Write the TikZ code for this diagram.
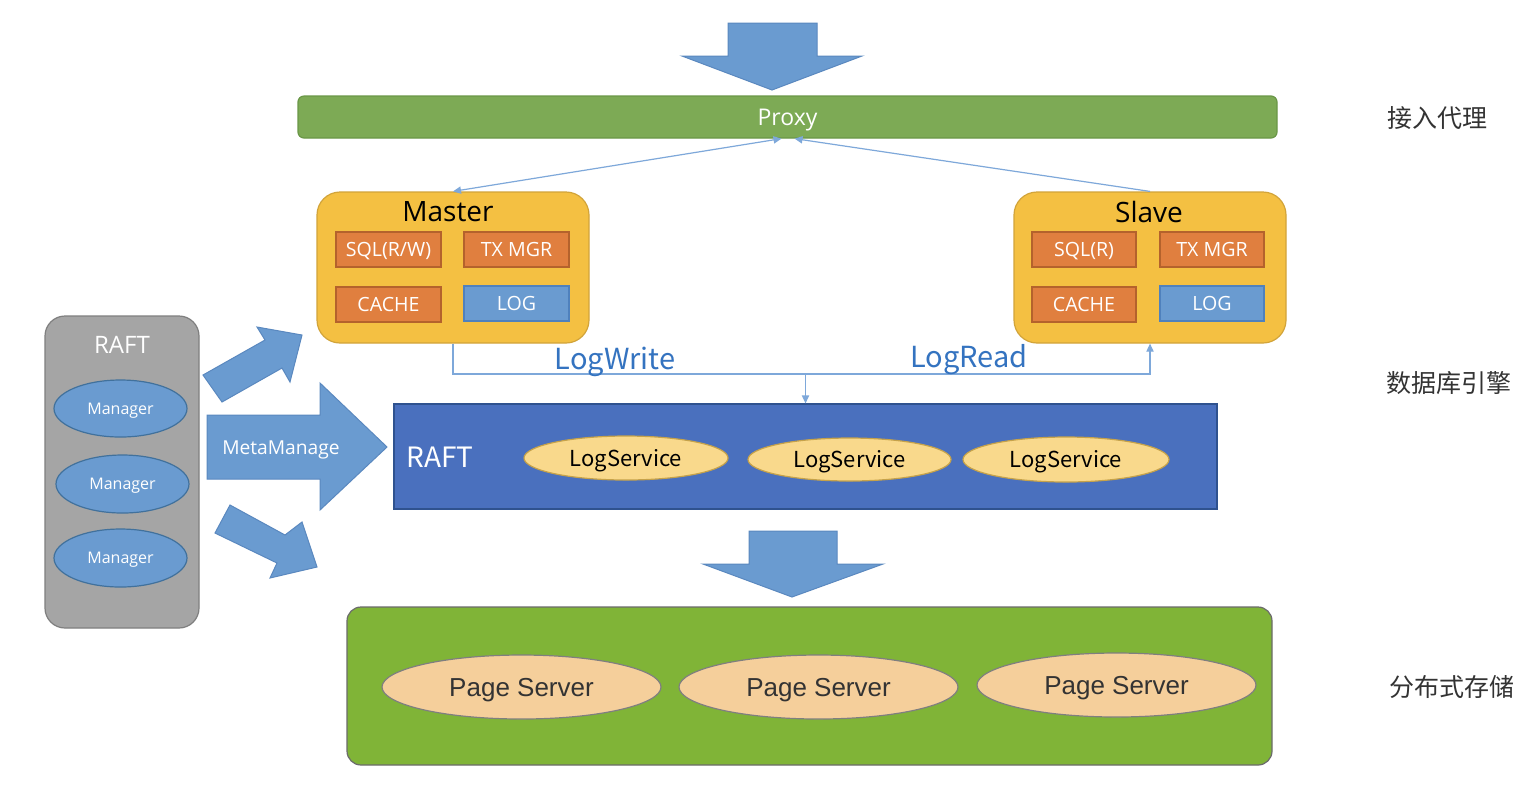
\documentclass[tikz,border=0pt]{standalone}
\usepackage{fontspec}
\setmainfont{Open Sans}
\newfontfamily\cjk{Noto Sans CJK SC}
\newfontfamily\arialf{Liberation Sans}
\usetikzlibrary{shapes.geometric,arrows.meta}
\definecolor{arrowblue}{HTML}{6A9BD0}
\definecolor{arrowedge}{HTML}{5A88BF}
\definecolor{proxygreen}{HTML}{7DAA55}
\definecolor{proxyedge}{HTML}{6A9747}
\definecolor{gold}{HTML}{F4C042}
\definecolor{goldedge}{HTML}{D2A43A}
\definecolor{orangefill}{HTML}{E07F3F}
\definecolor{orangeedge}{HTML}{B4622C}
\definecolor{logedge}{HTML}{4F81BD}
\definecolor{linkblue}{HTML}{7EA8DA}
\definecolor{labelblue}{HTML}{3473C0}
\definecolor{raftblue}{HTML}{4A70BE}
\definecolor{raftedge}{HTML}{2F528F}
\definecolor{lsfill}{HTML}{F9D98C}
\definecolor{lsedge}{HTML}{C6A24A}
\definecolor{grayfill}{HTML}{A5A5A5}
\definecolor{grayedge}{HTML}{7F7F7F}
\definecolor{mgredge}{HTML}{41719C}
\definecolor{storegreen}{HTML}{80B437}
\definecolor{storeedge}{HTML}{6B6B6B}
\definecolor{psfill}{HTML}{F5CF9B}
\definecolor{psedge}{HTML}{7F7F7F}
\definecolor{darktext}{HTML}{333333}
\begin{document}
\begin{tikzpicture}[x=0.5pt,y=-0.5pt,
  bigarrow/.style={fill=arrowblue, draw=arrowedge, line width=0.5pt, line join=miter},
  proxybar/.style={rectangle, rounded corners=3pt, fill=proxygreen, draw=proxyedge, line width=0.6pt, inner sep=0pt, minimum width=489.5pt, minimum height=21pt},
  enginebox/.style={rectangle, rounded corners=11.5pt, fill=gold, draw=goldedge, line width=0.6pt, inner sep=0pt, minimum width=136pt, minimum height=75.5pt},
  enginetitle/.style={font=\fontsize{14pt}{16pt}\selectfont, text=black, inner sep=0pt},
  innerbox/.style={rectangle, line width=0.6pt, inner sep=0pt, text=white, font=\fontsize{9.8pt}{11pt}\selectfont, minimum width=52.5pt, minimum height=17.5pt, text height=7pt, text depth=0pt},
  orangebox/.style={innerbox, fill=orangefill, draw=orangeedge},
  logbox/.style={innerbox, fill=arrowblue, draw=logedge},
  link/.style={draw=linkblue, line width=0.6pt},
  tip/.style={-{Triangle[length=4pt,width=3.6pt]}},
  flowlabel/.style={text=labelblue, font=\cjk\fontsize{14.5pt}{16pt}\selectfont, inner sep=0pt},
  raftband/.style={rectangle, fill=raftblue, draw=raftedge, line width=0.6pt, inner sep=0pt, minimum width=411.5pt, minimum height=52.5pt},
  lsnode/.style={ellipse, fill=lsfill, draw=lsedge, line width=0.6pt, inner sep=0pt, text=black, font=\cjk\fontsize{11pt}{13pt}\selectfont, minimum width=102pt, minimum height=22pt, text height=8pt, text depth=0pt},
  graybox/.style={rectangle, rounded corners=10pt, fill=grayfill, draw=grayedge, line width=0.6pt, inner sep=0pt, minimum width=77pt, minimum height=156pt},
  mgr/.style={ellipse, fill=arrowblue, draw=mgredge, line width=0.6pt, inner sep=0pt, text=white, font=\fontsize{8pt}{10pt}\selectfont, minimum width=66.5pt, minimum height=29pt, text height=5.7pt, text depth=0pt},
  storebox/.style={rectangle, rounded corners=7pt, fill=storegreen, draw=storeedge, line width=0.6pt, inner sep=0pt, minimum width=462.5pt, minimum height=79pt},
  psnode/.style={ellipse, fill=psfill, draw=psedge, line width=0.6pt, inner sep=0pt, text=darktext, font=\arialf\fontsize{13pt}{15pt}\selectfont, minimum width=139.5pt, minimum height=32pt, text height=9.3pt, text depth=0pt},
  layer/.style={text=darktext, font=\cjk\fontsize{12.5pt}{14pt}\selectfont, inner sep=0pt}
]
\useasboundingbox[fill=white] (0,0) rectangle (1540,784);

% big block arrows
\draw[bigarrow] (728,23) -- (817,23) -- (817,56) -- (862,56) -- (772,90) -- (682,56) -- (728,56) -- cycle;
\draw[bigarrow] (749,531) -- (837,531) -- (837,564) -- (883,564) -- (792,597) -- (703,564) -- (749,564) -- cycle;
\draw[bigarrow] (207,415) -- (320,415) -- (320,383) -- (387,447) -- (320,510) -- (320,479) -- (207,479) -- cycle;
\draw[bigarrow] (203,375) -- (265,340) -- (257,327) -- (302,335) -- (290,382) -- (282,368) -- (222,402) -- cycle;
\draw[bigarrow] (230,505) -- (285,535) -- (302,522) -- (317,567) -- (270,578) -- (277,563) -- (215,533) -- cycle;
\node[text=white, font=\fontsize{9.6pt}{11pt}\selectfont, inner sep=0pt, text height=6.9pt, text depth=0pt] (meta) at (281,448) {MetaManage};

% proxy
\node[proxybar, text=white, font=\fontsize{11.5pt}{13pt}\selectfont, text height=8.2pt, text depth=0pt] (proxy) at (787.5,117) {Proxy};

% master
\node[enginebox] (master) at (453,267.5) {};
\node[enginetitle] (mastertitle) at (448,212) {Master};
\node[orangebox] (msql) at (388.5,249.5) {SQL(R/W)};
\node[orangebox] (mtx) at (516.5,249.5) {TX MGR};
\node[orangebox] (mcache) at (388.5,304.5) {CACHE};
\node[logbox] (mlog) at (516.5,303.5) {LOG};

% slave
\node[enginebox] (slave) at (1150,267.5) {};
\node[enginetitle] (slavetitle) at (1149,212) {Slave};
\node[orangebox, minimum width=52pt] (ssql) at (1084,249.5) {SQL(R)};
\node[orangebox, minimum width=52pt] (stx) at (1212,249.5) {TX MGR};
\node[orangebox, minimum width=52pt] (scache) at (1084,304.5) {CACHE};
\node[logbox, minimum width=52pt] (slog) at (1212,303.5) {LOG};

% raft band
\node[raftband] (raft) at (805.5,456.5) {};
\node[text=white, font=\cjk\fontsize{14pt}{16pt}\selectfont, inner sep=0pt, anchor=west] (rafttxt) at (406,457) {RAFT};
\node[lsnode] (ls1) at (626,458) {LogService};
\node[lsnode, minimum width=101.5pt, minimum height=21.5pt] (ls2) at (849.5,459.5) {LogService};
\node[lsnode, minimum width=103pt, minimum height=22.5pt] (ls3) at (1066,459.5) {LogService};

% left raft managers
\node[graybox] (raftmgr) at (122,472) {};
\node[text=white, font=\fontsize{12pt}{14pt}\selectfont, inner sep=0pt] (raftmgrtxt) at (122,345) {RAFT};
\node[mgr, minimum height=28.5pt] (mgr1) at (120.5,408.5) {Manager};
\node[mgr] (mgr2) at (122.5,484) {Manager};
\node[mgr] (mgr3) at (120.5,558) {Manager};

% storage
\node[storebox] (store) at (809.5,686) {};
\node[psnode] (ps1) at (521.5,687) {Page Server};
\node[psnode] (ps2) at (818.5,687) {Page Server};
\node[psnode] (ps3) at (1116.5,685) {Page Server};

% connectors
\draw[link, {Triangle[length=4pt,width=3.6pt]}-{Triangle[length=4pt,width=3.6pt]}] (master.north) -- ([xshift=-3pt]proxy.south);
\draw[link, tip] (slave.north) -- ([xshift=3.5pt]proxy.south);
\coordinate (joint) at (raft.north |- 0,374);
\draw[link, tip] (master.south) |- (joint) -- (raft.north);
\draw[link, tip] (joint) -| (slave.south);
\node[flowlabel] (lw) at (615,362) {LogWrite};
\node[flowlabel] (lr) at (969,360) {LogRead};

% layer labels
\node[layer, anchor=west] (l1) at (1387,118) {接入代理};
\node[layer, anchor=west] (l2) at (1386,383) {数据库引擎};
\node[layer, anchor=west] (l3) at (1389,687) {分布式存储};
\end{tikzpicture}
\end{document}
